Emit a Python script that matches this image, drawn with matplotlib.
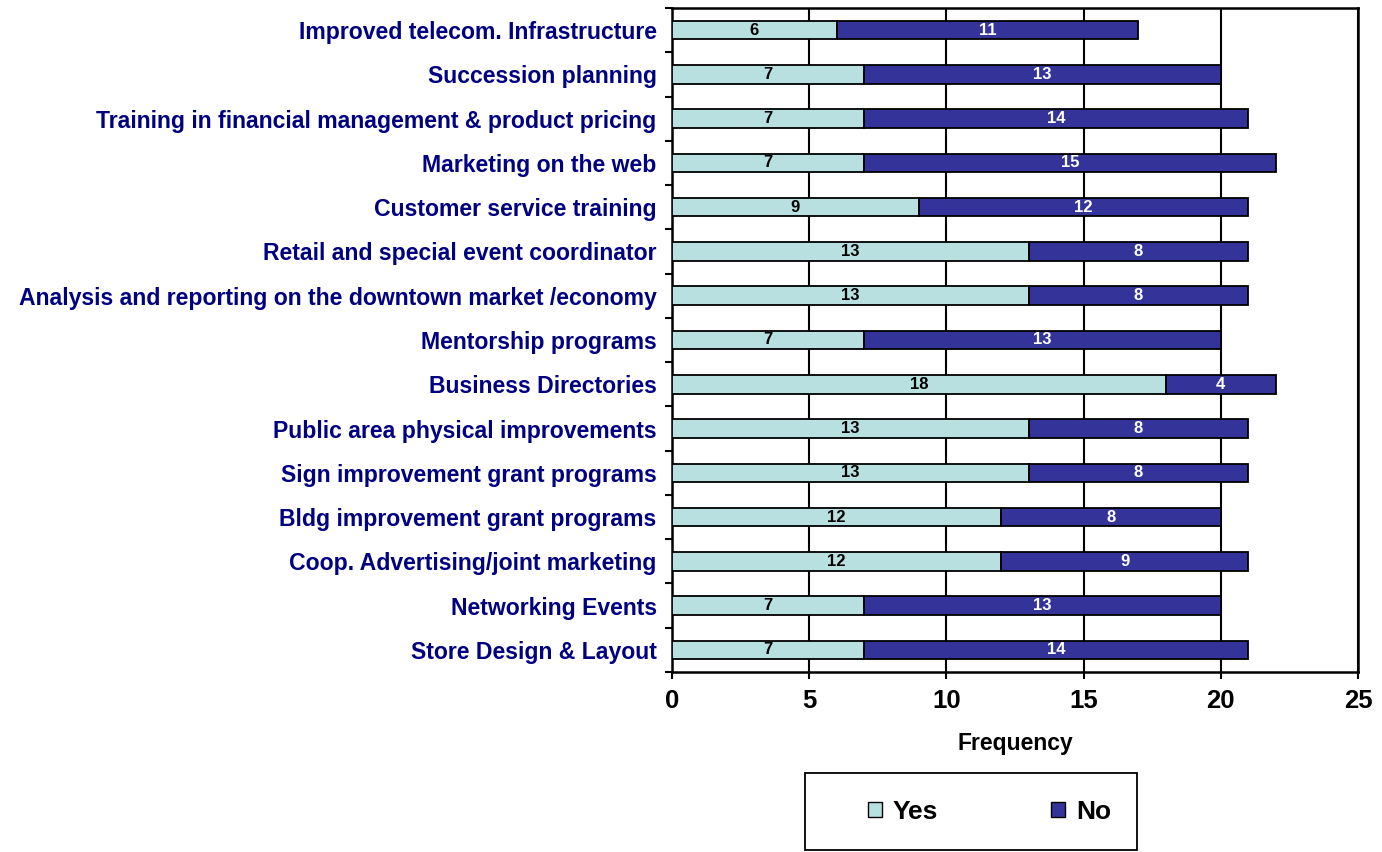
import matplotlib
matplotlib.use("Agg")
import matplotlib.pyplot as plt
from matplotlib.patches import Rectangle
import numpy as np

plt.rcParams['font.family'] = ['Liberation Sans', 'DejaVu Sans']

# bottom to top, as drawn on the y axis
categories = [
    "Store Design & Layout",
    "Networking Events",
    "Coop. Advertising/joint marketing",
    "Bldg improvement grant programs",
    "Sign improvement grant programs",
    "Public area physical improvements",
    "Business Directories",
    "Mentorship programs",
    "Analysis and reporting on the downtown market /economy",
    "Retail and special event coordinator",
    "Customer service training",
    "Marketing on the web",
    "Training in financial management & product pricing",
    "Succession planning",
    "Improved telecom. Infrastructure",
]
yes_vals = [7, 7, 12, 12, 13, 13, 18, 7, 13, 13, 9, 7, 7, 7, 6]
no_vals = [14, 13, 9, 8, 8, 8, 4, 13, 8, 8, 12, 15, 14, 13, 11]
xticks = [0, 5, 10, 15, 20, 25]

yes_color = "#B8E0E0"
no_color = "#333399"
label_color = "#000080"

W, H = 1382, 852
fig = plt.figure(figsize=(W / 100, H / 100), dpi=100)
ax = fig.add_axes([672 / W, 1 - 672 / H, (1358 - 672) / W, (672 - 8) / H])

y = np.arange(len(categories))
h = 0.42
b1 = ax.barh(y, yes_vals, height=h, color=yes_color, edgecolor="black", linewidth=1.3, zorder=3)
b2 = ax.barh(y, no_vals, left=yes_vals, height=h, color=no_color, edgecolor="black", linewidth=1.3, zorder=3)

for i in range(len(categories)):
    ax.text(yes_vals[i] / 2, y[i], str(yes_vals[i]), ha="center", va="center",
            fontsize=12, fontweight="bold", color="black", zorder=4)
    ax.text(yes_vals[i] + no_vals[i] / 2, y[i], str(no_vals[i]), ha="center", va="center",
            fontsize=12, fontweight="bold", color="white", zorder=4)

ax.set_xlim(0, 25)
ax.set_ylim(-0.5, len(categories) - 0.5)
ax.set_xticks(xticks)
ax.set_xticklabels([str(t) for t in xticks], fontsize=18.5, fontweight="bold")
ax.tick_params(axis="x", direction="out", length=5, width=1.5, pad=7)

ax.set_yticks(y)
ax.set_yticklabels(categories, fontsize=16.6, fontweight="bold", color=label_color)
ax.tick_params(axis="y", which="major", length=0, pad=11)
ax.set_yticks(np.arange(-0.5, len(categories), 1), minor=True)
ax.tick_params(axis="y", which="minor", direction="out", length=5, width=1.5)

ax.xaxis.grid(True, color="black", linewidth=1.5, zorder=0)
ax.set_axisbelow(True)
for s in ax.spines.values():
    s.set_linewidth(1.8)

ax.set_xlabel("Frequency", fontsize=16.5, fontweight="bold", labelpad=14)

# legend box below the axis
fig.patches.append(Rectangle((805 / W, 1 - 850 / H), (1137 - 805) / W, (850 - 773) / H,
                             transform=fig.transFigure, fill=False,
                             edgecolor="black", linewidth=1.3))
leg = fig.legend([b1, b2], ["Yes", "No"], loc="center left",
                 bbox_to_anchor=(868 / W, 1 - 812 / H),
                 ncol=2, prop={"weight": "bold", "size": 19},
                 frameon=False, handlelength=0.53, handleheight=0.53,
                 handletextpad=0.4, columnspacing=4.3, borderpad=0, borderaxespad=0)
for p in leg.get_patches():
    p.set_linewidth(1.0)

fig.savefig("out.png", dpi=100)
